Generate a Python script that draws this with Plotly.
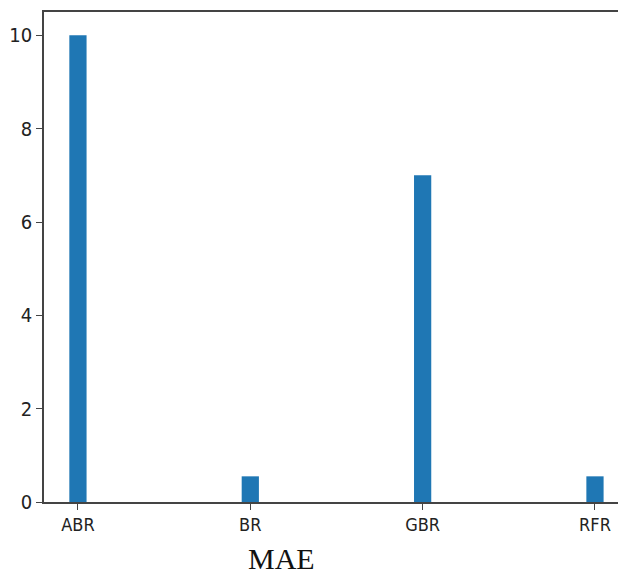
import plotly.graph_objects as go

models = ["ABR", "BR", "GBR", "RFR"]
mae = [10, 0.55, 7, 0.55]
y_ticks = [0, 2, 4, 6, 8, 10]

fig = go.Figure(go.Bar(x=models, y=mae, width=0.1, marker=dict(color="#1f77b4", line=dict(width=0))))

# page body has an 8px default margin; compensate
W, H = 618, 567
L, T, B = 36, 4, 73
plot_h = H - T - B
plot_w = W - L

fig.update_layout(
    width=W, height=H,
    margin=dict(l=L, r=0, t=T, b=B, autoexpand=False),
    plot_bgcolor="white", paper_bgcolor="white",
    showlegend=False,
    font=dict(family="DejaVu Sans Condensed, DejaVu Sans", size=16, color="#222"),
)
fig.update_xaxes(
    range=[-0.197, 3.18], showline=True, linecolor="#444", linewidth=1.5,
    mirror=True, ticks="outside", ticklen=6, tickcolor="#444", showgrid=False,
    tickfont=dict(size=18), automargin=False,
)
fig.update_yaxes(
    range=[0, 10.5], tickvals=y_ticks, showline=True, linecolor="#444", linewidth=1.5,
    mirror=True, ticks="outside", ticklen=6, tickcolor="#444", showgrid=False, zeroline=False,
    tickfont=dict(size=20), automargin=False,
)
fig.add_annotation(
    text="MAE", xref="paper", yref="paper", x=(273 - L) / plot_w, y=-(550 - (H - B)) / plot_h,
    showarrow=False, font=dict(family="Liberation Serif", size=30, color="#111"),
    xanchor="center", yanchor="middle",
)
fig.write_html("out.html")
